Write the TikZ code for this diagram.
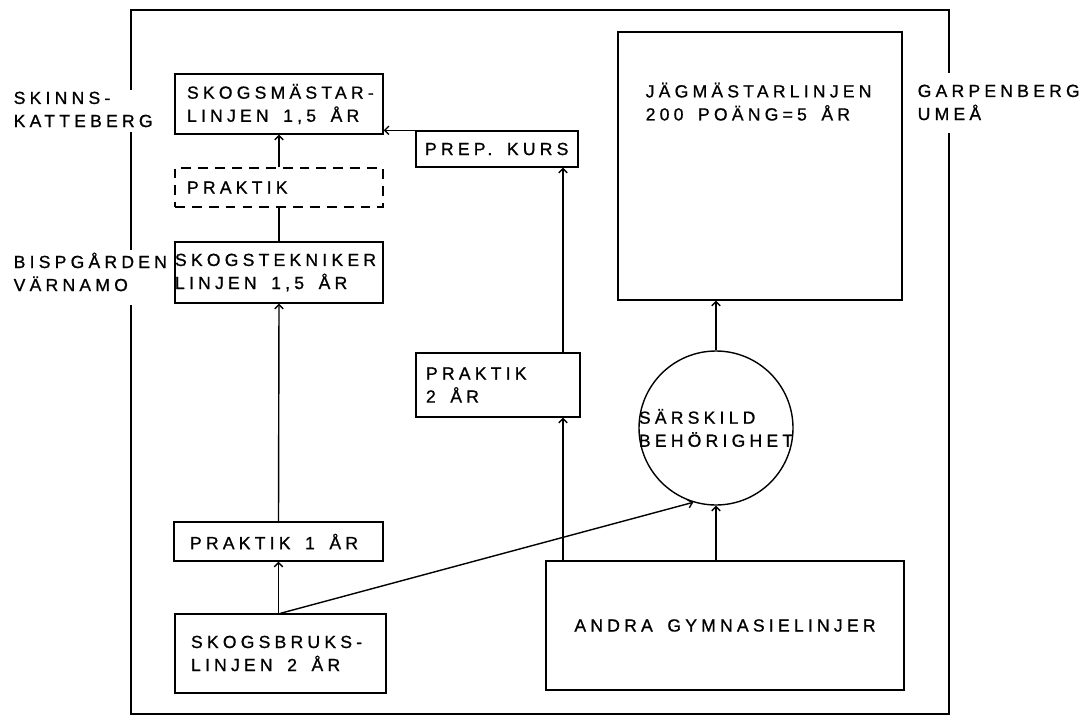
\documentclass[tikz,border=0pt]{standalone}
\usepackage{fontspec}
\setmainfont{Liberation Sans}[LetterSpace=24, WordSpace=1.6, FakeBold=0.9]
\usetikzlibrary{arrows.meta, positioning}

\newlength\pxl
\setlength\pxl{0.025cm} % one pixel of the scan

\tikzset{
	>={Straight Barb[length=3pt,width=6pt]}, % small open arrow heads
	box/.style={draw, rectangle, inner sep=0pt}, % the boxes of the courses
	dashbox/.style={box, dash pattern=on 7pt off 5pt}, % practice that is not required
	ring/.style={draw, circle, minimum size=154\pxl, inner sep=0pt}, % special eligibility
	txt/.style={inner sep=0pt, align=left}, % lettering
}

\begin{document}
\begin{tikzpicture}[x=0.025cm, y=-0.025cm, line width=1pt, font=\fontsize{12.5}{16.4}\selectfont]
	\useasboundingbox (0,0) rectangle (1084,717);
	
	% frame, open where the places are written
	\draw (131,90) -- (131,10) -- (949,10) -- (949,73);
	\draw (949,133) -- (949,714) -- (131,714) -- (131,305);
	\draw (131,250) -- (131,132);
	
	% places
	\node[txt, anchor=north west] (skinns) at (13,91) {SKINNS-\\KATTEBERG};
	\node[txt, anchor=north west] (bisp) at (13,252) {BISPGÅRDEN\\VÄRNAMO};
	\node[txt, anchor=north west] (garp) at (917,84) {GARPENBERG\\UMEÅ};
	
	% forest schools
	\node[box, minimum width=208\pxl, minimum height=60\pxl] (mast) at (279,104) {};
	\node[txt, right=12\pxl of mast.west] (masttxt) {SKOGSMÄSTAR-\\LINJEN 1,5 ÅR};
	\node[dashbox, minimum width=208\pxl, minimum height=39\pxl] (prakt) at (279,187.5) {};
	\node[txt, right=12\pxl of prakt.west] (prakttxt) {PRAKTIK};
	\node[box, minimum width=208\pxl, minimum height=61\pxl] (tekn) at (279,272.5) {};
	\node[txt, right=0pt of tekn.west] (tekntxt) {SKOGSTEKNIKER\\LINJEN 1,5 ÅR};
	\node[box, minimum width=209\pxl, minimum height=39\pxl] (prakt1) at (278.5,541.5) {};
	\node[txt, right=16\pxl of prakt1.west] (prakt1txt) {PRAKTIK 1 ÅR};
	\node[box, minimum width=211\pxl, minimum height=79\pxl] (bruk) at (280.5,653.5) {};
	\node[txt, right=16\pxl of bruk.west] (bruktxt) {SKOGSBRUKS-\\LINJEN 2 ÅR};
	
	% the way through practice
	\node[box, minimum width=162\pxl, minimum height=36\pxl] (prep) at (497,149) {};
	\node[txt, right=9\pxl of prep.west] (preptxt) {PREP. KURS};
	\node[box, minimum width=164\pxl, minimum height=64\pxl] (prakt2) at (498,385) {};
	\node[txt, right=10\pxl of prakt2.west] (prakt2txt) {PRAKTIK\\2 ÅR};
	
	% university
	\node[box, minimum width=284\pxl, minimum height=268\pxl] (jag) at (760,166) {};
	\node[txt, anchor=north west] (jagtxt) at (645,82) {JÄGMÄSTARLINJEN\\200 POÄNG=5 ÅR};
	\node[ring] (sars) at (716,428) {};
	\node[txt] (sarstxt) at (sars) {SÄRSKILD\\BEHÖRIGHET};
	\node[box, minimum width=358\pxl, minimum height=129\pxl] (andra) at (725,625.5) {ANDRA GYMNASIELINJER};
	\coordinate (col) at (563,0);
	
	% arrows
	\draw[->] (prakt.north) -- (mast.south);
	\draw (tekn.north) -- (prakt.south);
	\draw[->] (prakt1.north) -- (tekn.south);
	\draw[->] (bruk.north -| prakt1) -- (prakt1.south);
	\draw[->] (bruk.north) -- (sars.253);
	\draw[->] (prep.north west) -- (prep.north west -| mast.east);
	\draw[->] (andra.north -| col) -- (prakt2.south -| col);
	\draw[->] (prakt2.north -| col) -- (prep.south -| col);
	\draw[->] (andra.north -| sars) -- (sars.south);
	\draw[->] (sars.north) -- (jag.south -| sars);
	
\end{tikzpicture}
\end{document}
